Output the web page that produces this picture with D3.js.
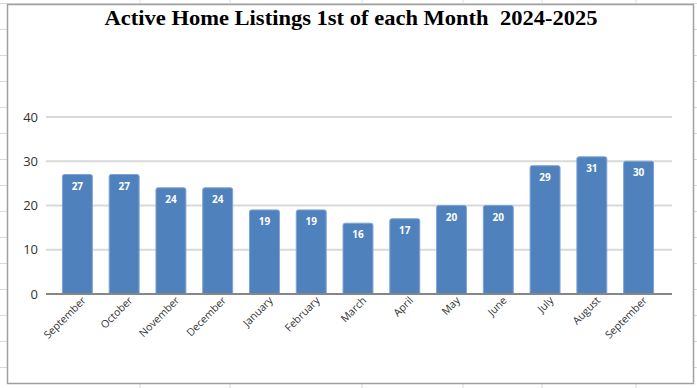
<!DOCTYPE html>
<html>
<head>
<meta charset="utf-8">
<script src="https://cdn.jsdelivr.net/npm/d3@7/dist/d3.min.js"></script>
<style>
  body { margin: 0; background: #fff; }
  svg { display: block; }
</style>
</head>
<body>
<div id="block"></div>
<script>
// chart data
var months = ["September", "October", "November", "December", "January", "February",
              "March", "April", "May", "June", "July", "August", "September"];
var listings = [27, 27, 24, 24, 19, 19, 16, 17, 20, 20, 29, 31, 30];
var yTicks = [0, 10, 20, 30, 40];
var title = "Active Home Listings 1st of each Month  2024-2025";

var w = 697,
  h = 388;

var svg = d3.select("#block")
          .append("svg")
          .attr("width", w)
          .attr("height", h);

// spreadsheet cells behind the chart
var cellCols = [140, 230, 362, 463, 542, 636];
var cellRows = d3.range(3, h, 26);
svg.selectAll("line.col")
   .data(cellCols)
   .enter()
   .append("line")
   .attr("x1", function(d) { return d; })
   .attr("x2", function(d) { return d; })
   .attr("y1", 0)
   .attr("y2", h)
   .attr("stroke", "#dadada");
svg.selectAll("line.row")
   .data(cellRows)
   .enter()
   .append("line")
   .attr("x1", 0)
   .attr("x2", w)
   .attr("y1", function(d) { return d + 0.5; })
   .attr("y2", function(d) { return d + 0.5; })
   .attr("stroke", "#dadada");

// chart box
svg.append("rect")
   .attr("x", 7.5)
   .attr("y", 4.5)
   .attr("width", 686)
   .attr("height", 379)
   .attr("fill", "#fff")
   .attr("stroke", "#a0a0a0")
   .attr("stroke-width", 1.5);

svg.append("text")
   .attr("x", 351)
   .attr("y", 25)
   .attr("text-anchor", "middle")
   .attr("font-family", "'Liberation Serif', 'Times New Roman', serif")
   .attr("font-weight", "bold")
   .attr("font-size", 22)
   .attr("textLength", 493)
   .attr("lengthAdjust", "spacingAndGlyphs")
   .style("white-space", "pre")
   .text(title);

var x = d3.scaleBand()
          .domain(d3.range(months.length))
          .range([54, 662])
          .paddingInner(0.36)
          .paddingOuter(0.18);

var y = d3.scaleLinear()
          .domain([0, 40])
          .range([294, 117]);

// gridlines
svg.selectAll("line.grid")
   .data(yTicks.slice(1))
   .enter()
   .append("line")
   .attr("x1", 46)
   .attr("x2", 672)
   .attr("y1", function(d) { return y(d); })
   .attr("y2", function(d) { return y(d); })
   .attr("stroke", "#d9d9d9")
   .attr("stroke-width", 2);

var yAxis = d3.axisLeft(y)
              .tickValues(yTicks)
              .tickSize(0)
              .tickPadding(8);
var gy = svg.append("g")
            .attr("transform", "translate(46,0)")
            .call(yAxis);
gy.select(".domain").remove();
gy.selectAll("text")
  .attr("font-family", "'Open Sans', sans-serif")
  .attr("font-size", 13)
  .attr("fill", "#333");

// bars
var bars = svg.selectAll("g.bar")
              .data(listings)
              .enter()
              .append("g");

bars.append("path")
    .attr("d", function(d, i) {
      var x0 = x(i), x1 = x(i) + x.bandwidth(), top = y(d), base = y(0), r = 2;
      return "M" + x0 + "," + base + "V" + (top + r) +
             "Q" + x0 + "," + top + " " + (x0 + r) + "," + top +
             "H" + (x1 - r) +
             "Q" + x1 + "," + top + " " + x1 + "," + (top + r) +
             "V" + base + "Z";
    })
    .attr("fill", "#4f81bd")
    .attr("stroke", "#7fa3d3")
    .attr("stroke-width", 1);

bars.append("text")
    .attr("x", function(d, i) { return x(i) + x.bandwidth() / 2; })
    .attr("y", function(d) { return y(d) + 15; })
    .attr("text-anchor", "middle")
    .attr("font-family", "'Open Sans', sans-serif")
    .attr("font-weight", "bold")
    .attr("font-size", 10)
    .attr("fill", "#fff")
    .text(function(d) { return d; });

// baseline
svg.append("line")
   .attr("x1", 46)
   .attr("x2", 672)
   .attr("y1", y(0))
   .attr("y2", y(0))
   .attr("stroke", "#868686")
   .attr("stroke-width", 2);

// month labels
var xAxis = d3.axisBottom(x)
              .tickSize(0)
              .tickFormat(function(i) { return months[i]; });
var gx = svg.append("g")
            .attr("transform", "translate(0," + y(0) + ")")
            .call(xAxis);
gx.select(".domain").remove();
gx.selectAll("text")
  .attr("font-family", "'Open Sans', sans-serif")
  .attr("font-size", 10.5)
  .attr("fill", "#333")
  .attr("text-anchor", "end")
  .attr("dy", 0)
  .attr("transform", "translate(7,5) rotate(-45)");
</script>
</body>
</html>
